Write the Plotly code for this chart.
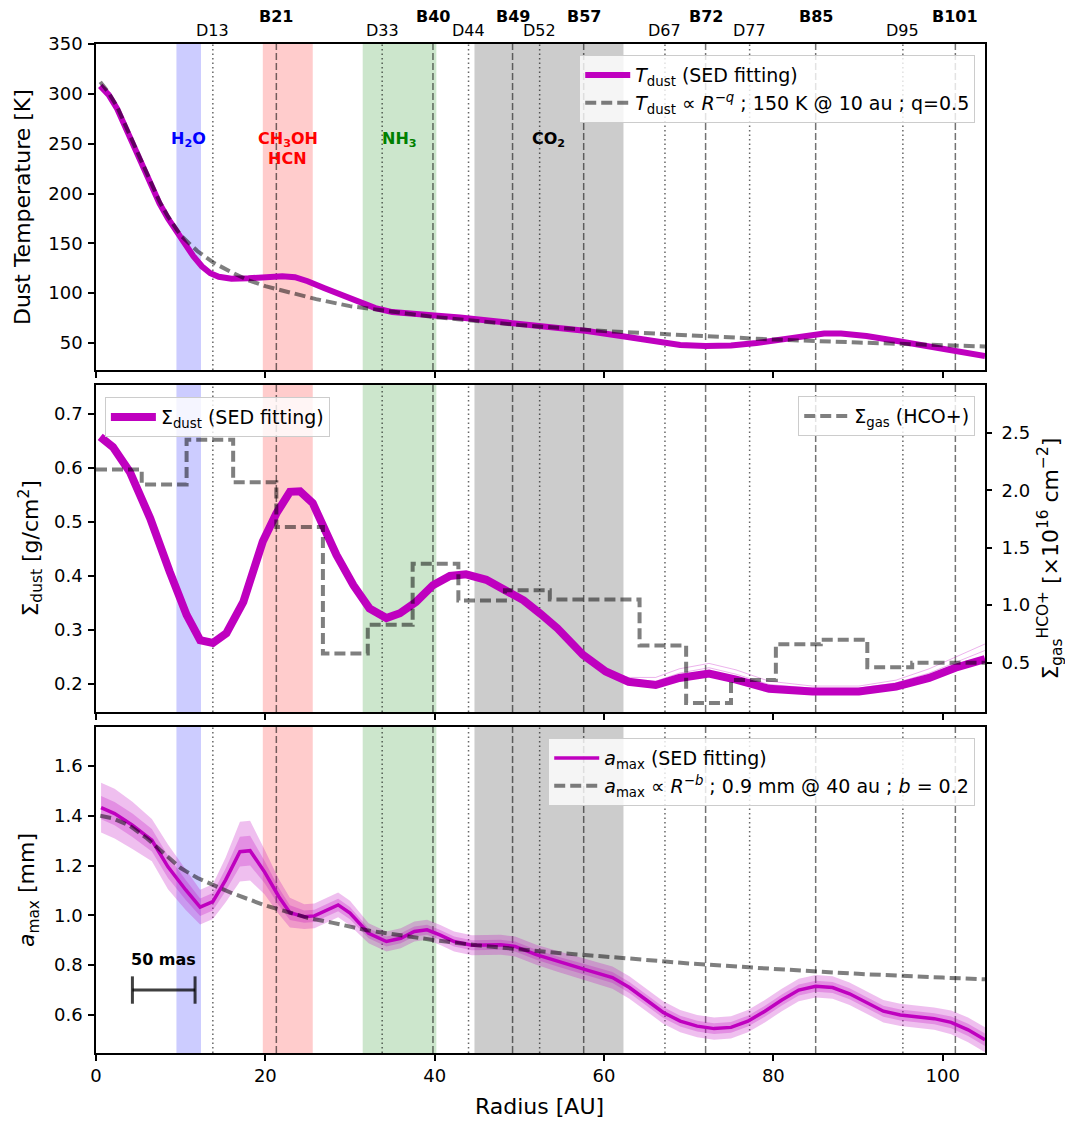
import plotly.graph_objects as go

# ---------------- data ----------------
# Panel 1: dust temperature
r_T = [0.5, 1.5, 2.5, 3.5, 4.5, 5.5, 6.5, 7.5, 8.5, 9.5, 10.5, 11.5, 12.5, 13.5, 14.5, 16, 18, 20, 22, 23.5,
       25, 27, 29, 31, 33, 35, 37, 40, 43, 46, 50, 54, 58, 62, 66, 69, 72, 75, 78, 81, 84, 86, 88, 91, 95, 100, 105]
T_dust = [308, 299, 285, 266, 246, 226, 207, 190, 175, 162, 149, 137, 127, 120, 116.5, 114.5, 115, 116.5, 117, 116,
          112, 105, 98, 91, 85, 81, 79, 77.5, 75.5, 73, 70, 66.5, 62, 57, 51.5, 48, 47, 47.5, 50, 54, 58, 59.5, 59.5,
          57, 51.5, 45, 37]
r_Tpl = [0.5, 1.5, 2.5, 3.5, 4.5, 5.5, 6.5, 7.5, 8.5, 10, 12, 14, 16, 18, 20, 23, 26, 30, 35, 40, 45, 50, 60, 70,
         80, 90, 100, 105]
T_pl = [312, 301, 287, 268, 248, 228, 209, 192, 177, 158, 142, 130, 121, 113, 107, 100, 94, 87, 81, 76, 72, 68, 62,
        57.5, 53.5, 50.5, 47.5, 46.5]

# Panel 2: surface densities
r_sd = [0.5, 2.0, 4.0, 6.4, 8.7, 10.7, 12.3, 13.8, 15.4, 17.4, 19.7, 21.3, 22.9, 24.1, 25.6, 26.8, 28.4, 30.4,
        32.3, 34.3, 35.9, 37.8, 39.8, 41.8, 43.7, 46.1, 48.4, 50.5, 52.5, 54.5, 57.5, 60.2, 62.9, 66.1, 68.9, 72.4,
        75.6, 79.5, 84.6, 90.1, 94.5, 98.4, 101.5, 105]
sigma_dust = [0.658, 0.639, 0.593, 0.507, 0.408, 0.328, 0.281, 0.276, 0.294, 0.352, 0.464, 0.516, 0.556, 0.557,
              0.535, 0.494, 0.439, 0.383, 0.340, 0.322, 0.331, 0.352, 0.383, 0.400, 0.403, 0.393, 0.374, 0.355,
              0.330, 0.303, 0.254, 0.223, 0.204, 0.198, 0.211, 0.219, 0.208, 0.191, 0.186, 0.186, 0.195, 0.211,
              0.230, 0.246]
r_sd_tail = [60.2, 62.9, 66.1, 68.9, 72.4, 75.6, 79.5, 84.6, 90.1, 94.5, 98.4, 101.5, 105]
sigma_dust_alt1 = [0.224, 0.212, 0.212, 0.228, 0.238, 0.226, 0.205, 0.196, 0.196, 0.207, 0.228, 0.250, 0.274]
sigma_dust_alt2 = [0.224, 0.208, 0.205, 0.220, 0.230, 0.218, 0.199, 0.192, 0.192, 0.202, 0.220, 0.240, 0.262]

gas_edges = [0, 5.4, 10.7, 16.2, 21.3, 26.8, 32.1, 37.4, 42.8, 48.3, 53.6, 58.9, 64.2, 69.7, 75.0, 80.3, 85.6,
             91.1, 96.4, 101.7, 105]
sigma_gas = [2.18, 2.05, 2.44, 2.07, 1.68, 0.58, 0.83, 1.36, 1.04, 1.13, 1.05, 1.05, 0.65, 0.15, 0.35, 0.66, 0.70,
             0.46, 0.50, 0.50, 0.50]

# Panel 3: maximum grain size
r_a = [0.6, 2.2, 4.3, 6.6, 8.5, 10.6, 12.3, 13.8, 15.3, 17.0, 18.2, 19.9, 21.6, 22.9, 24.6, 25.8, 28.6, 30.0, 32.2,
       34.3, 36.0, 37.6, 39.1, 40.6, 42.3, 44.4, 47.8, 49.5, 52.0, 54.5, 58, 61, 63, 65, 67, 69, 71, 73, 75, 77, 79,
       81, 83, 85, 87, 89, 91, 93, 95, 97, 99, 101, 103, 105]
a_max = [1.433, 1.409, 1.362, 1.302, 1.195, 1.102, 1.033, 1.055, 1.142, 1.256, 1.260, 1.175, 1.075, 1.011, 0.995,
         0.998, 1.042, 1.009, 0.928, 0.895, 0.908, 0.935, 0.942, 0.922, 0.895, 0.880, 0.882, 0.875, 0.842, 0.815,
         0.780, 0.750, 0.710, 0.660, 0.610, 0.575, 0.555, 0.545, 0.550, 0.575, 0.615, 0.660, 0.700, 0.715, 0.710,
         0.685, 0.650, 0.615, 0.600, 0.592, 0.585, 0.570, 0.540, 0.500]
a_err_in = [0.047, 0.047, 0.047, 0.045, 0.045, 0.04, 0.035, 0.035, 0.045, 0.06, 0.06, 0.045, 0.035, 0.03, 0.025,
            0.025, 0.025, 0.025, 0.02, 0.02, 0.02, 0.02, 0.02, 0.02, 0.02, 0.02, 0.02, 0.02, 0.02, 0.02,
            0.022, 0.022, 0.022, 0.022, 0.022, 0.022, 0.022, 0.022, 0.022, 0.022, 0.022, 0.022, 0.022, 0.022,
            0.022, 0.022, 0.022, 0.022, 0.022, 0.022, 0.022, 0.024, 0.025, 0.025]
a_err_out = [0.10, 0.10, 0.095, 0.085, 0.09, 0.08, 0.07, 0.07, 0.09, 0.12, 0.12, 0.09, 0.07, 0.06, 0.05, 0.05, 0.05,
             0.05, 0.04, 0.04, 0.04, 0.04, 0.04, 0.04, 0.04, 0.04, 0.04, 0.04, 0.04, 0.042, 0.045, 0.045, 0.045,
             0.045, 0.045, 0.045, 0.045, 0.045, 0.045, 0.045, 0.045, 0.045, 0.045, 0.045, 0.045, 0.045, 0.045,
             0.045, 0.045, 0.045, 0.045, 0.048, 0.05, 0.05]
r_apl = [0.5, 2, 4, 6, 8, 10, 12, 14, 16, 18, 20, 22, 25, 28, 32, 36, 40, 45, 50, 55, 60, 70, 80, 90, 100, 105]
a_pl = [1.40, 1.39, 1.36, 1.31, 1.25, 1.19, 1.15, 1.12, 1.09, 1.065, 1.04, 1.02, 0.99, 0.97, 0.94, 0.92, 0.90,
        0.88, 0.862, 0.848, 0.835, 0.807, 0.785, 0.765, 0.75, 0.743]

# Rings / gaps and chemical zones
ring_names = ["B21", "B40", "B49", "B57", "B72", "B85", "B101"]
ring_pos = [21.3, 39.8, 49.2, 57.6, 72.0, 85.0, 101.5]
gap_names = ["D13", "D33", "D44", "D52", "D67", "D77", "D95"]
gap_pos = [13.8, 33.8, 44.0, 52.4, 67.2, 77.2, 95.3]
zone_labels = ["H<sub>2</sub>O", "CH<sub>3</sub>OH", "NH<sub>3</sub>", "CO<sub>2</sub>"]
zone_lo = [9.5, 19.7, 31.5, 44.7]
zone_hi = [12.4, 25.6, 40.2, 62.3]
zone_fill = ["rgba(0,0,255,0.2)", "rgba(255,0,0,0.2)", "rgba(0,128,0,0.2)", "rgba(0,0,0,0.2)"]
zone_text_color = ["blue", "red", "green", "black"]

scalebar_x = [4.3, 11.7]
scalebar_y = 0.70

# ---------------- figure ----------------
FONT = "DejaVu Sans"
MAG = "rgb(191,0,191)"
GRAYD = "rgba(0,0,0,0.5)"
DASH = "11px,5px"

fig = go.Figure()

# panel 1
fig.add_trace(go.Scatter(x=r_T, y=T_dust, mode="lines", line=dict(color=MAG, width=6),
                         name="<i>T</i><sub>dust</sub> (SED fitting)", xaxis="x", yaxis="y", legend="legend"))
fig.add_trace(go.Scatter(x=r_Tpl, y=T_pl, mode="lines", line=dict(color=GRAYD, width=4, dash=DASH),
                         name="<i>T</i><sub>dust</sub> ∝ <i>R</i><sup>−<i>q</i></sup> ; 150 K @ 10 au ; q=0.5",
                         xaxis="x", yaxis="y", legend="legend"))

# panel 2
for alt in (sigma_dust_alt1, sigma_dust_alt2):
    fig.add_trace(go.Scatter(x=r_sd_tail, y=alt, mode="lines", line=dict(color="rgba(191,0,191,0.3)", width=1),
                             showlegend=False, xaxis="x2", yaxis="y2", hoverinfo="skip"))
fig.add_trace(go.Scatter(x=r_sd, y=sigma_dust, mode="lines", line=dict(color=MAG, width=8),
                         name="Σ<sub>dust</sub> (SED fitting)", xaxis="x2", yaxis="y2", legend="legend2"))
fig.add_trace(go.Scatter(x=gas_edges, y=sigma_gas, mode="lines",
                         line=dict(color=GRAYD, width=4, dash=DASH, shape="hv"),
                         name="Σ<sub>gas</sub> (HCO+)", xaxis="x2", yaxis="y3", legend="legend3"))

# panel 3
out_up = [a + e for a, e in zip(a_max, a_err_out)]
out_lo = [a - e for a, e in zip(a_max, a_err_out)]
in_up = [a + e for a, e in zip(a_max, a_err_in)]
in_lo = [a - e for a, e in zip(a_max, a_err_in)]
fig.add_trace(go.Scatter(x=r_a + r_a[::-1], y=out_up + out_lo[::-1], fill="toself", mode="lines",
                         line=dict(width=0), fillcolor="rgba(191,0,191,0.25)", showlegend=False,
                         xaxis="x3", yaxis="y4", hoverinfo="skip"))
fig.add_trace(go.Scatter(x=r_a + r_a[::-1], y=in_up + in_lo[::-1], fill="toself", mode="lines",
                         line=dict(width=0), fillcolor="rgba(191,0,191,0.25)", showlegend=False,
                         xaxis="x3", yaxis="y4", hoverinfo="skip"))
fig.add_trace(go.Scatter(x=r_a, y=a_max, mode="lines", line=dict(color=MAG, width=3.5),
                         name="<i>a</i><sub>max</sub> (SED fitting)", xaxis="x3", yaxis="y4", legend="legend4"))
fig.add_trace(go.Scatter(x=r_apl, y=a_pl, mode="lines", line=dict(color=GRAYD, width=4, dash=DASH),
                         name="<i>a</i><sub>max</sub> ∝ <i>R</i><sup>−<i>b</i></sup> ; 0.9 mm @ 40 au ; <i>b</i> = 0.2",
                         xaxis="x3", yaxis="y4", legend="legend4"))

# shapes: zones and ring/gap lines in each panel
shapes = []
panels = [("x", "y domain"), ("x2", "y2 domain"), ("x3", "y4 domain")]
for xr, yr in panels:
    for lo, hi, fc in zip(zone_lo, zone_hi, zone_fill):
        shapes.append(dict(type="rect", xref=xr, yref=yr, x0=lo, x1=hi, y0=0, y1=1, fillcolor=fc,
                           line=dict(width=0), layer="below"))
    for p in ring_pos:
        shapes.append(dict(type="line", xref=xr, yref=yr, x0=p, x1=p, y0=0, y1=1,
                           line=dict(color="rgba(0,0,0,0.55)", width=1.5, dash="7px,3px"), layer="below"))
    for p in gap_pos:
        shapes.append(dict(type="line", xref=xr, yref=yr, x0=p, x1=p, y0=0, y1=1,
                           line=dict(color="rgba(0,0,0,0.6)", width=1.5, dash="1.5px,3px"), layer="below"))
# scale bar
SB = "rgba(0,0,0,0.75)"
shapes.append(dict(type="line", xref="x3", yref="y4", x0=scalebar_x[0], x1=scalebar_x[1], y0=scalebar_y,
                   y1=scalebar_y, line=dict(color=SB, width=3)))
for xx in scalebar_x:
    shapes.append(dict(type="line", xref="x3", yref="y4", x0=xx, x1=xx, y0=scalebar_y - 0.055,
                       y1=scalebar_y + 0.055, line=dict(color=SB, width=3)))

annotations = []
# ring / gap labels above top panel
for n, p in zip(ring_names, ring_pos):
    annotations.append(dict(x=p, y=1.0277, xref="x", yref="paper", text="<b>" + n + "</b>", showarrow=False,
                            font=dict(size=16, color="black", family=FONT), xanchor="center", yanchor="middle"))
for n, p in zip(gap_names, gap_pos):
    annotations.append(dict(x=p, y=1.0129, xref="x", yref="paper", text=n, showarrow=False,
                            font=dict(size=16, color="black", family=FONT), xanchor="center", yanchor="middle"))
# molecule labels
zone_y = [254, 254, 254, 254]
for lab, lo, hi, c, yy in zip(zone_labels, zone_lo, zone_hi, zone_text_color, zone_y):
    annotations.append(dict(x=(lo + hi) / 2, y=yy, xref="x", yref="y", text="<b>" + lab + "</b>", showarrow=False,
                            font=dict(size=16, color=c, family=FONT), xanchor="center", yanchor="middle"))
annotations.append(dict(x=(zone_lo[1] + zone_hi[1]) / 2, y=235.5, xref="x", yref="y", text="<b>HCN</b>",
                        showarrow=False, font=dict(size=16, color="red", family=FONT), xanchor="center",
                        yanchor="middle"))
annotations.append(dict(x=sum(scalebar_x) / 2, y=0.822, xref="x3", yref="y4", text="<b>50 mas</b>", showarrow=False,
                        font=dict(size=16, color="black", family=FONT), xanchor="center", yanchor="middle"))


# axis titles
def title_ann(text, x, y, angle=-90):
    return dict(x=x, y=y, xref="paper", yref="paper", text=text, showarrow=False, textangle=angle,
                font=dict(size=22, color="black", family=FONT), xanchor="center", yanchor="middle")


annotations.append(title_ann("Dust Temperature [K]", -0.0820, 0.8385))
annotations.append(title_ann("Σ<sub>dust</sub> [g/cm<sup>2</sup>]", -0.0742, 0.500))
annotations.append(title_ann("<i>a</i><sub>max</sub> [mm]", -0.0765, 0.1615))
annotations.append(title_ann("Σ<sub>gas</sub><sup>HCO+</sup> [×10<sup>16</sup> cm<sup>−2</sup>]", 1.0731, 0.490))
annotations.append(title_ann("Radius [AU]", 0.4994, -0.0535, angle=0))

axis_common = dict(showline=True, linecolor="black", linewidth=1.5, mirror=True, ticks="outside", ticklen=6,
                   tickwidth=1.5, tickcolor="black", showgrid=False, zeroline=False,
                   tickfont=dict(size=18, color="black", family=FONT))
xcommon = dict(axis_common, range=[0, 105], tickvals=[0, 20, 40, 60, 80, 100])

legend_common = dict(font=dict(size=19, color="black", family=FONT), bgcolor="rgba(255,255,255,0.8)",
                     bordercolor="#cccccc", borderwidth=1, xanchor="right", yanchor="top", xref="paper",
                     yref="paper", tracegroupgap=0, itemwidth=45)

# page body has an 8px margin: figure is sized/offset so the plot lands at the reference position
fig.update_layout(
    width=1065, height=1113,
    margin=dict(l=88, r=88, t=36, b=68),
    paper_bgcolor="white", plot_bgcolor="white",
    font=dict(family=FONT, color="black", size=18),
    xaxis=dict(xcommon, anchor="y", showticklabels=False),
    xaxis2=dict(xcommon, anchor="y2", showticklabels=False, matches="x"),
    xaxis3=dict(xcommon, anchor="y4", matches="x"),
    yaxis=dict(axis_common, domain=[0.6769, 1.0], anchor="x", range=[22.9, 350],
               tickvals=[50, 100, 150, 200, 250, 300, 350], ticklabelstandoff=2),
    yaxis2=dict(axis_common, domain=[0.3380, 0.6620], anchor="x2", range=[0.148, 0.754],
                tickvals=[0.2, 0.3, 0.4, 0.5, 0.6, 0.7], tickformat=".1f", ticklabelstandoff=2),
    yaxis3=dict(axis_common, overlaying="y2", side="right", anchor="x2", range=[0.071, 2.915],
                tickvals=[0.5, 1.0, 1.5, 2.0, 2.5], tickformat=".1f", mirror=False, showline=False,
                ticklabelstandoff=6),
    yaxis4=dict(axis_common, domain=[0.0, 0.3231], anchor="x3", range=[0.447, 1.757],
                tickvals=[0.6, 0.8, 1.0, 1.2, 1.4, 1.6], tickformat=".1f", ticklabelstandoff=2),
    legend=dict(legend_common, x=0.989, y=0.989),
    legend2=dict(legend_common, x=0.010, y=0.650, xanchor="left"),
    legend3=dict(legend_common, x=0.989, y=0.651),
    legend4=dict(legend_common, x=0.989, y=0.312),
    shapes=shapes,
    annotations=annotations,
)

fig.write_html("out.html")
